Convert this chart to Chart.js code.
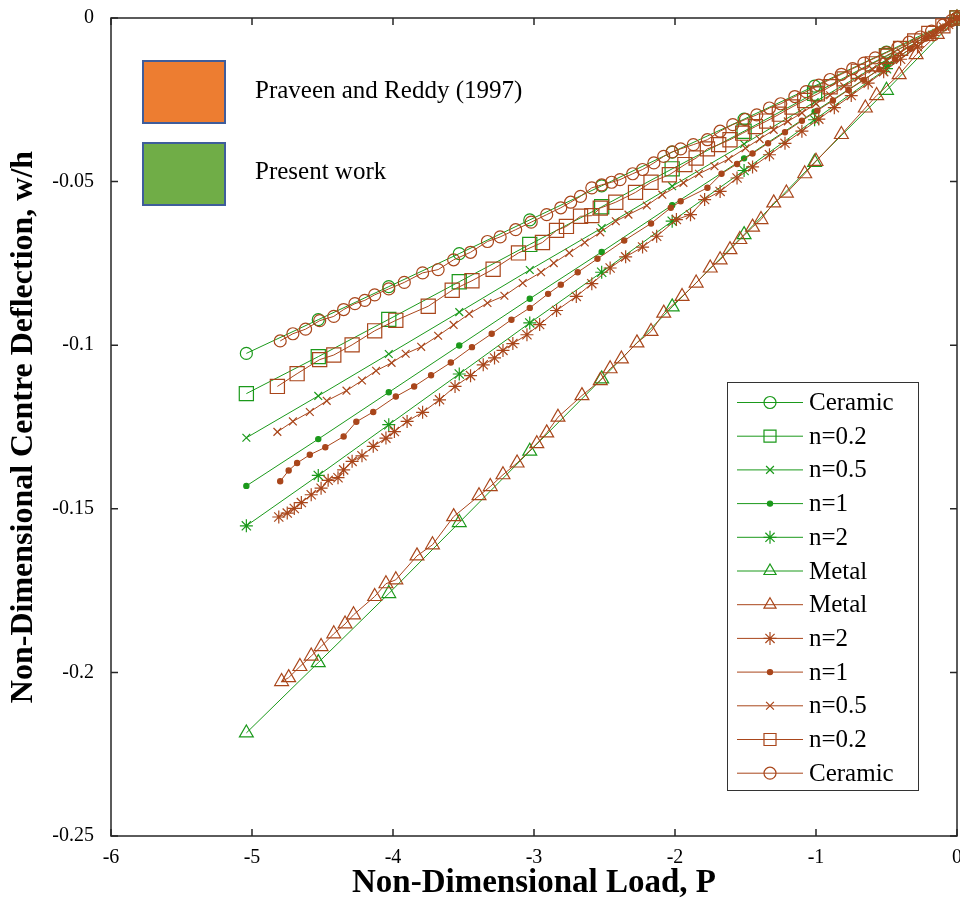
<!DOCTYPE html>
<html>
<head>
<meta charset="utf-8">
<script src="https://cdn.jsdelivr.net/npm/chart.js@4.4.1/dist/chart.umd.min.js"></script>
<style>
  html, body { margin: 0; padding: 0; background: #fff; }
  #wrap { width: 960px; height: 907px; }
</style>
</head>
<body>
<div id="wrap"><canvas id="deflChart" width="960" height="907"></canvas></div>
<script>
// Present work: one load axis shared by all six curves
const presentLoad = [-5.04, -4.53, -4.03, -3.53, -3.03, -2.52, -2.02, -1.51, -1.01, -0.5, 0];
const presentCeramic = [-0.1025, -0.0922, -0.0821, -0.0720, -0.0617, -0.0513, -0.0410, -0.0309, -0.0208, -0.0104, 0];
const presentN02 = [-0.1148, -0.1035, -0.0921, -0.0806, -0.0692, -0.0577, -0.0461, -0.0346, -0.0230, -0.0115, 0];
const presentN05 = [-0.1283, -0.1155, -0.1027, -0.0899, -0.0770, -0.0642, -0.0514, -0.0385, -0.0257, -0.0128, 0];
const presentN1 = [-0.1430, -0.1287, -0.1144, -0.1001, -0.0858, -0.0715, -0.0572, -0.0429, -0.0286, -0.0143, 0];
const presentN2 = [-0.1552, -0.1398, -0.1243, -0.1088, -0.0932, -0.0777, -0.0621, -0.0466, -0.0311, -0.0155, 0];
const presentMetal = [-0.2185, -0.1970, -0.1759, -0.1542, -0.1324, -0.1103, -0.0883, -0.0662, -0.0441, -0.0221, 0];

const refCeramic = [[-4.80,-0.0987],[-4.71,-0.0965],[-4.62,-0.0951],[-4.52,-0.0925],[-4.42,-0.0912],[-4.35,-0.0891],[-4.27,-0.0873],[-4.20,-0.0863],[-4.13,-0.0846],[-4.03,-0.0828],[-3.92,-0.0808],[-3.79,-0.0779],[-3.68,-0.0769],[-3.57,-0.0739],[-3.45,-0.0716],[-3.33,-0.0683],[-3.24,-0.0669],[-3.13,-0.0647],[-3.02,-0.0624],[-2.91,-0.0601],[-2.81,-0.0580],[-2.74,-0.0563],[-2.67,-0.0545],[-2.59,-0.0519],[-2.52,-0.0510],[-2.45,-0.0502],[-2.39,-0.0494],[-2.30,-0.0476],[-2.23,-0.0463],[-2.15,-0.0443],[-2.08,-0.0423],[-2.02,-0.0409],[-1.96,-0.0400],[-1.87,-0.0387],[-1.77,-0.0372],[-1.68,-0.0346],[-1.59,-0.0326],[-1.50,-0.0310],[-1.42,-0.0296],[-1.33,-0.0275],[-1.25,-0.0262],[-1.15,-0.0240],[-1.07,-0.0225],[-0.98,-0.0205],[-0.90,-0.0188],[-0.82,-0.0172],[-0.74,-0.0155],[-0.66,-0.0138],[-0.58,-0.0122],[-0.50,-0.0106],[-0.42,-0.0090],[-0.34,-0.0074],[-0.26,-0.0058],[-0.18,-0.0040],[-0.10,-0.0022],[-0.04,-0.0008],[0,0]];
const refN02 = [[-4.82,-0.1126],[-4.68,-0.1087],[-4.52,-0.1044],[-4.42,-0.1030],[-4.29,-0.0999],[-4.13,-0.0956],[-3.98,-0.0924],[-3.75,-0.0881],[-3.58,-0.0832],[-3.44,-0.0803],[-3.29,-0.0768],[-3.11,-0.0718],[-2.94,-0.0686],[-2.84,-0.0649],[-2.77,-0.0637],[-2.67,-0.0606],[-2.59,-0.0604],[-2.53,-0.0581],[-2.42,-0.0563],[-2.28,-0.0533],[-2.17,-0.0502],[-2.04,-0.0479],[-1.93,-0.0448],[-1.85,-0.0428],[-1.77,-0.0400],[-1.69,-0.0387],[-1.61,-0.0372],[-1.52,-0.0352],[-1.43,-0.0332],[-1.35,-0.0315],[-1.26,-0.0294],[-1.17,-0.0272],[-1.08,-0.0252],[-0.99,-0.0232],[-0.90,-0.0210],[-0.80,-0.0186],[-0.70,-0.0163],[-0.60,-0.0140],[-0.50,-0.0117],[-0.40,-0.0093],[-0.30,-0.0070],[-0.20,-0.0047],[-0.10,-0.0024],[0,0]];
const refN05 = [[-4.82,-0.1265],[-4.71,-0.1233],[-4.59,-0.1204],[-4.47,-0.1170],[-4.33,-0.1139],[-4.22,-0.1108],[-4.12,-0.1078],[-4.01,-0.1054],[-3.91,-0.1026],[-3.80,-0.1005],[-3.68,-0.0971],[-3.57,-0.0938],[-3.46,-0.0904],[-3.33,-0.0871],[-3.21,-0.0849],[-3.08,-0.0810],[-2.95,-0.0777],[-2.86,-0.0749],[-2.75,-0.0718],[-2.64,-0.0686],[-2.53,-0.0655],[-2.42,-0.0621],[-2.33,-0.0601],[-2.20,-0.0573],[-2.09,-0.0540],[-1.94,-0.0504],[-1.83,-0.0476],[-1.72,-0.0453],[-1.62,-0.0431],[-1.50,-0.0398],[-1.40,-0.0370],[-1.30,-0.0342],[-1.20,-0.0316],[-1.10,-0.0290],[-1.00,-0.0262],[-0.90,-0.0236],[-0.80,-0.0209],[-0.70,-0.0183],[-0.60,-0.0157],[-0.50,-0.0131],[-0.40,-0.0105],[-0.30,-0.0078],[-0.20,-0.0052],[-0.10,-0.0026],[0,0]];
const refN1 = [[-4.80,-0.1416],[-4.74,-0.1383],[-4.68,-0.1360],[-4.59,-0.1335],[-4.48,-0.1312],[-4.35,-0.1279],[-4.26,-0.1234],[-4.14,-0.1204],[-3.98,-0.1157],[-3.85,-0.1126],[-3.73,-0.1092],[-3.59,-0.1053],[-3.44,-0.1006],[-3.30,-0.0965],[-3.16,-0.0922],[-3.03,-0.0886],[-2.90,-0.0843],[-2.81,-0.0815],[-2.69,-0.0777],[-2.55,-0.0736],[-2.36,-0.0680],[-2.17,-0.0628],[-2.03,-0.0580],[-1.96,-0.0560],[-1.77,-0.0519],[-1.67,-0.0476],[-1.56,-0.0446],[-1.45,-0.0414],[-1.34,-0.0383],[-1.22,-0.0349],[-1.10,-0.0314],[-0.99,-0.0283],[-0.88,-0.0252],[-0.77,-0.0220],[-0.66,-0.0189],[-0.55,-0.0157],[-0.44,-0.0126],[-0.33,-0.0094],[-0.22,-0.0063],[-0.11,-0.0031],[0,0]];
const refN2 = [[-4.81,-0.1525],[-4.75,-0.1513],[-4.70,-0.1499],[-4.65,-0.1481],[-4.58,-0.1457],[-4.51,-0.1437],[-4.46,-0.1413],[-4.39,-0.1405],[-4.35,-0.1381],[-4.29,-0.1355],[-4.22,-0.1338],[-4.14,-0.1309],[-4.05,-0.1284],[-3.99,-0.1264],[-3.90,-0.1233],[-3.79,-0.1205],[-3.67,-0.1167],[-3.56,-0.1126],[-3.45,-0.1093],[-3.36,-0.1060],[-3.28,-0.1039],[-3.22,-0.1016],[-3.15,-0.0995],[-3.05,-0.0968],[-2.96,-0.0937],[-2.84,-0.0894],[-2.70,-0.0851],[-2.59,-0.0812],[-2.46,-0.0764],[-2.35,-0.0730],[-2.23,-0.0700],[-2.13,-0.0667],[-1.99,-0.0616],[-1.89,-0.0601],[-1.79,-0.0555],[-1.68,-0.0530],[-1.56,-0.0489],[-1.45,-0.0455],[-1.33,-0.0418],[-1.22,-0.0383],[-1.10,-0.0346],[-0.98,-0.0309],[-0.87,-0.0274],[-0.75,-0.0237],[-0.63,-0.0199],[-0.52,-0.0164],[-0.40,-0.0126],[-0.28,-0.0088],[-0.17,-0.0053],[-0.06,-0.0019],[0,0]];
const refMetal = [[-4.79,-0.2028],[-4.74,-0.2016],[-4.66,-0.1982],[-4.58,-0.1950],[-4.51,-0.1921],[-4.42,-0.1882],[-4.34,-0.1852],[-4.28,-0.1824],[-4.13,-0.1768],[-4.05,-0.1729],[-3.98,-0.1717],[-3.83,-0.1644],[-3.72,-0.1610],[-3.57,-0.1524],[-3.39,-0.1460],[-3.31,-0.1432],[-3.22,-0.1396],[-3.12,-0.1360],[-2.98,-0.1301],[-2.91,-0.1268],[-2.83,-0.1220],[-2.66,-0.1154],[-2.53,-0.1108],[-2.46,-0.1072],[-2.38,-0.1042],[-2.27,-0.0993],[-2.17,-0.0958],[-2.08,-0.0902],[-1.95,-0.0851],[-1.85,-0.0810],[-1.75,-0.0764],[-1.68,-0.0739],[-1.61,-0.0708],[-1.54,-0.0677],[-1.45,-0.0639],[-1.39,-0.0616],[-1.30,-0.0565],[-1.21,-0.0535],[-1.08,-0.0476],[-1.00,-0.0438],[-0.82,-0.0356],[-0.65,-0.0275],[-0.57,-0.0237],[-0.41,-0.0173],[-0.29,-0.0112],[-0.14,-0.0050],[0,0]];

const xTicks = [-6, -5, -4, -3, -2, -1, 0];
const xTickLabels = ['-6', '-5', '-4', '-3', '-2', '-1', '0'];
const yTicks = [0, -0.05, -0.1, -0.15, -0.2, -0.25];
const yTickLabels = ['0', '-0.05', '-0.1', '-0.15', '-0.2', '-0.25'];

const GREEN = '#1b991b';
const BROWN = '#a9461b';
const NONE = 'rgba(0,0,0,0)';

// marker looks, keyed by material
const markers = {
  'Ceramic': { pointStyle: 'circle', radius: 6, fill: false },
  'n=0.2': { pointStyle: 'rect', radius: 10, fill: false },
  'n=0.5': { pointStyle: 'crossRot', radius: 5.5, fill: false },
  'n=1': { pointStyle: 'circle', radius: 2.6, fill: true },
  'n=2': { pointStyle: 'star', radius: 6.5, fill: false },
  'Metal': { pointStyle: 'triangle', radius: 8, fill: false }
};

const presentSeries = [
  ['Ceramic', presentCeramic], ['n=0.2', presentN02], ['n=0.5', presentN05],
  ['n=1', presentN1], ['n=2', presentN2], ['Metal', presentMetal]
];
const refSeries = [
  ['Metal', refMetal], ['n=2', refN2], ['n=1', refN1],
  ['n=0.5', refN05], ['n=0.2', refN02], ['Ceramic', refCeramic]
];

function makeSet(label, points, color) {
  const m = markers[label];
  return {
    label,
    data: points,
    borderColor: color,
    backgroundColor: m.fill ? color : NONE,
    borderWidth: 1,
    pointStyle: m.pointStyle,
    pointRadius: m.radius,
    pointBorderWidth: 1.2,
    pointBorderColor: color,
    pointBackgroundColor: m.fill ? color : NONE,
    tension: 0,
    clip: false
  };
}

const datasets = [];
refSeries.forEach(([lab, pts]) => datasets.push(makeSet(lab, pts.map(p => ({ x: p[0], y: p[1] })), BROWN)));
presentSeries.forEach(([lab, vals]) => datasets.push(makeSet(lab, vals.map((v, i) => ({ x: presentLoad[i], y: v })), GREEN)));

const legendRows = presentSeries.map(s => [s[0], GREEN]).concat(refSeries.map(s => [s[0], BROWN]));

const framePlugin = {
  id: 'frame',
  beforeDatasetsDraw(chart) {
    const { ctx, chartArea: a, scales: { x, y } } = chart;
    ctx.save();
    ctx.strokeStyle = '#262626';
    ctx.lineWidth = 1.5;
    ctx.strokeRect(a.left, a.top, a.right - a.left, a.bottom - a.top);
    ctx.beginPath();
    xTicks.forEach(v => {
      const px = x.getPixelForValue(v);
      ctx.moveTo(px, a.bottom); ctx.lineTo(px, a.bottom - 7);
      ctx.moveTo(px, a.top); ctx.lineTo(px, a.top + 7);
    });
    yTicks.forEach(v => {
      const py = y.getPixelForValue(v);
      ctx.moveTo(a.left, py); ctx.lineTo(a.left + 7, py);
      ctx.moveTo(a.right, py); ctx.lineTo(a.right - 7, py);
    });
    ctx.stroke();
    ctx.restore();
  },
  afterDraw(chart) {
    const ctx = chart.ctx;
    ctx.save();
    // source legend (top left)
    ctx.lineWidth = 2;
    ctx.strokeStyle = '#3f5d9b';
    ctx.fillStyle = '#ed7d31';
    ctx.fillRect(143, 61, 82, 62);
    ctx.strokeRect(143, 61, 82, 62);
    ctx.fillStyle = '#70ad47';
    ctx.fillRect(143, 143, 82, 62);
    ctx.strokeRect(143, 143, 82, 62);
    ctx.fillStyle = '#000';
    ctx.font = '25px "Liberation Serif"';
    ctx.textBaseline = 'middle';
    ctx.fillText('Praveen and Reddy (1997)', 255, 91);
    ctx.fillText('Present work', 255, 172);

    // series legend (lower right)
    ctx.fillStyle = '#fff';
    ctx.fillRect(727, 382, 191, 408);
    ctx.lineWidth = 1;
    ctx.strokeStyle = '#333';
    ctx.strokeRect(727.5, 382.5, 191, 408);
    legendRows.forEach(([lab, color], i) => {
      const yy = 402.5 + i * 33.7;
      const m = markers[lab];
      ctx.strokeStyle = color;
      ctx.lineWidth = 1;
      ctx.beginPath();
      ctx.moveTo(737, yy); ctx.lineTo(803, yy);
      ctx.stroke();
      ctx.fillStyle = m.fill ? color : NONE;
      ctx.lineWidth = 1.2;
      const r = m.pointStyle === 'rect' ? 8.5 : (m.pointStyle === 'triangle' ? 7 : m.radius);
      Chart.helpers.drawPoint(ctx, { pointStyle: m.pointStyle, radius: r, rotation: 0, borderWidth: 1.2 }, 770, yy);
      ctx.fillStyle = '#000';
      ctx.font = '25px "Liberation Serif"';
      ctx.textBaseline = 'middle';
      ctx.fillText(lab, 809, yy + 1);
    });
    ctx.restore();
  }
};

Chart.defaults.font.family = '"Liberation Serif", "Times New Roman", serif';
Chart.defaults.color = '#000';

new Chart(document.getElementById('deflChart').getContext('2d'), {
  type: 'line',
  data: { datasets },
  plugins: [framePlugin],
  options: {
    responsive: false,
    animation: false,
    layout: { autoPadding: false, padding: { top: 18, right: 3, left: 0, bottom: 0 } },
    plugins: { legend: { display: false }, tooltip: { enabled: false } },
    scales: {
      x: {
        type: 'linear',
        min: -6,
        max: 0,
        afterBuildTicks: s => { s.ticks = xTicks.map(v => ({ value: v })); },
        afterFit: s => { s.height = 71; s.paddingLeft = 0; s.paddingRight = 0; },
        ticks: {
          font: { size: 20 },
          padding: 10,
          maxRotation: 0,
          callback: v => xTickLabels[xTicks.indexOf(v)]
        },
        grid: { display: false, drawTicks: false },
        border: { display: false },
        title: {
          display: true,
          text: 'Non-Dimensional Load, P',
          font: { size: 33, weight: 'bold' },
          padding: { top: 0, bottom: 4 }
        }
      },
      y: {
        type: 'linear',
        min: -0.25,
        max: 0,
        afterBuildTicks: s => { s.ticks = yTicks.map(v => ({ value: v })); },
        afterFit: s => { s.width = 111; s.paddingTop = 0; s.paddingBottom = 0; },
        ticks: {
          font: { size: 20 },
          padding: 17,
          callback: v => yTickLabels[yTicks.indexOf(v)]
        },
        grid: { display: false, drawTicks: false },
        border: { display: false },
        title: {
          display: true,
          text: 'Non-Dimensional Centre Deflection, w/h',
          font: { size: 32, weight: 'bold' },
          padding: { top: 5, bottom: 0 }
        }
      }
    }
  }
});
</script>
</body>
</html>
